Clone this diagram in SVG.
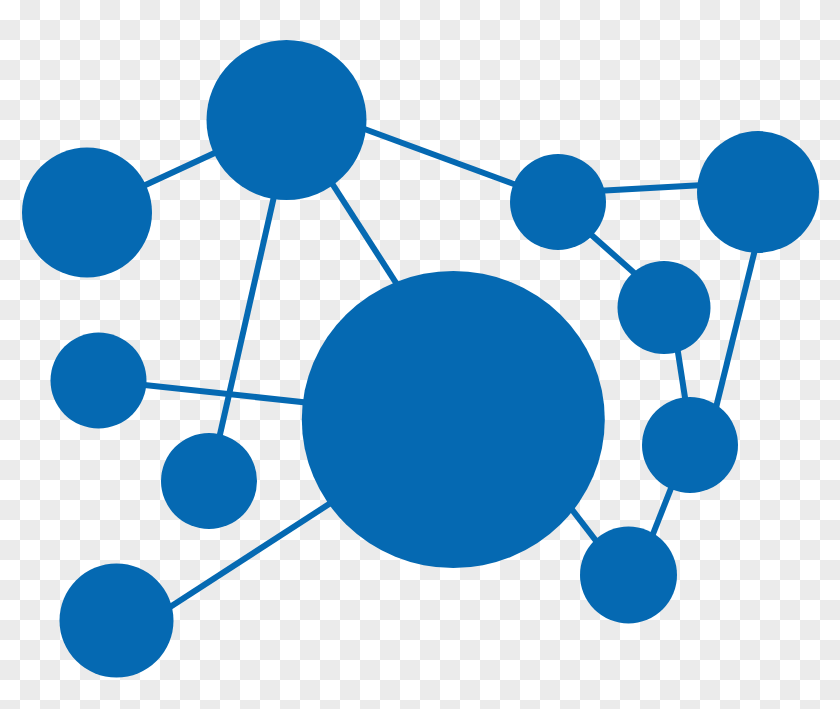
<svg xmlns="http://www.w3.org/2000/svg" width="840" height="709" viewBox="0 0 840 709">
<defs>
<pattern id="checker" x="0" y="0" width="40" height="40" patternUnits="userSpaceOnUse">
<rect width="40" height="40" fill="#ffffff"/>
<rect x="20" y="0" width="20" height="20" fill="#ebebeb"/>
<rect x="0" y="20" width="20" height="20" fill="#ebebeb"/>
</pattern>
<style>
.edge{stroke:#0569b2;stroke-width:6;stroke-linecap:butt;fill:none}
.node{fill:#0569b2}
</style>
</defs>
<rect width="840" height="709" fill="url(#checker)"/>
<g id="connectors">
<line class="edge" x1="87" y1="212" x2="286" y2="120"/>
<line class="edge" x1="340" y1="120" x2="530" y2="190"/>
<line class="edge" x1="560" y1="193" x2="740" y2="183"/>
<line class="edge" x1="560" y1="207" x2="650" y2="287"/>
<line class="edge" x1="673" y1="320" x2="690" y2="430"/>
<line class="edge" x1="766" y1="205" x2="708" y2="440"/>
<line class="edge" x1="690" y1="440" x2="640" y2="567"/>
<line class="edge" x1="540" y1="468" x2="610" y2="559"/>
<line class="edge" x1="317" y1="160" x2="407" y2="300"/>
<line class="edge" x1="280" y1="170" x2="216" y2="452"/>
<line class="edge" x1="98" y1="380" x2="320" y2="404"/>
<line class="edge" x1="150" y1="620" x2="360" y2="484"/>
</g>
<g id="n1"><circle class="node" cx="286.5" cy="120" r="80"/></g>
<g id="n2"><circle class="node" cx="87" cy="212.5" r="65"/></g>
<g id="n3"><circle class="node" cx="98.5" cy="380.5" r="48"/></g>
<g id="n4"><circle class="node" cx="209" cy="481" r="48"/></g>
<g id="n5"><circle class="node" cx="116.5" cy="620.5" r="57"/></g>
<g id="n6"><ellipse class="node" cx="453.3" cy="419.5" rx="151.5" ry="148.5"/></g>
<g id="n7"><circle class="node" cx="558" cy="202" r="48"/></g>
<g id="n8"><circle class="node" cx="758" cy="192" r="61"/></g>
<g id="n9"><circle class="node" cx="664" cy="307.5" r="46.5"/></g>
<g id="n10"><circle class="node" cx="690" cy="445" r="48"/></g>
<g id="n11"><circle class="node" cx="628.5" cy="575" r="48.5"/></g>
</svg>
